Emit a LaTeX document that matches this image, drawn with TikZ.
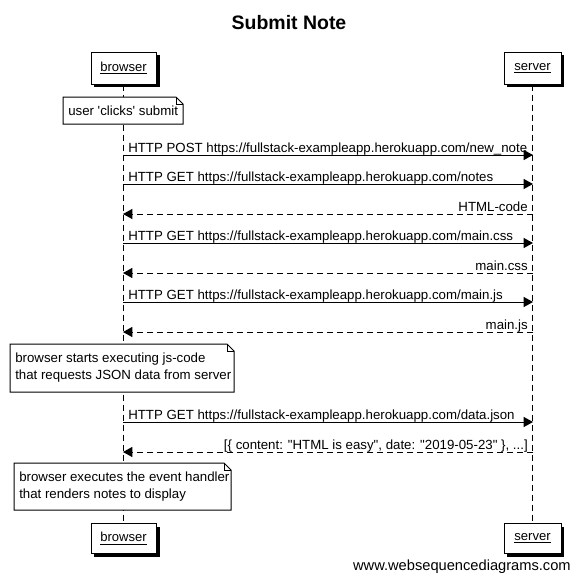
\documentclass[tikz,border=0pt]{standalone}
\usepackage{fontspec}
\setmainfont{Liberation Sans}[Ligatures=TeXOff]
\usetikzlibrary{arrows.meta,calc}
\tikzset{
  actor/.style={draw=black,fill=white,line width=0.75pt,minimum width=49pt,minimum height=24pt,inner sep=0pt,font=\fontsize{9.8}{11}\selectfont},
  life/.style={draw=black,line width=0.75pt,dash pattern=on 4.5pt off 3pt},
  msg/.style={draw=black,line width=0.75pt,-{Triangle[length=7pt,width=7.5pt]}},
  ret/.style={draw=black,line width=0.75pt,dash pattern=on 4.5pt off 3pt,-{Triangle[length=7pt,width=7.5pt]}},
  lbl/.style={font=\fontsize{9.95}{11}\selectfont,inner sep=0pt},
  notetxt/.style={font=\fontsize{9.95}{12.6}\selectfont,align=left,inner sep=0pt},
  notebox/.style={draw=black,fill=white,line width=0.75pt},
  ear/.style={draw=black,line width=0.5pt},
}
\begin{document}
\begin{tikzpicture}[x=0.75pt,y=-0.75pt]
\useasboundingbox (0,0) rectangle (576,578);
% title
\node[font=\bfseries\fontsize{14.6}{16}\selectfont] (title) at (289,22.5) {Submit Note};
% actor boxes
\fill (94,55) rectangle (160,87);
\node[actor,minimum width=48.75pt,minimum height=24pt] (bt) at (123.5,68) {\underline{browser}};
\fill (507,55) rectangle (564,87);
\node[actor,minimum width=42.75pt,minimum height=24pt] (st) at (532.5,68) {\underline{server}};
\fill (94,527) rectangle (160,557);
\node[actor,minimum width=48.75pt,minimum height=23pt] (bb) at (123.5,538.5) {\underline{browser}};
\fill (507,527) rectangle (564,557);
\node[actor,minimum width=42.75pt,minimum height=23pt] (sb) at (532.5,538.5) {\underline{server}};
% lifelines
\path[life] (bt.south) -- (bb.north);
\path[life] (st.south) -- (sb.north);
% note 1
\draw[notebox] (63,97) -- (176,97) -- (183,104) -- (183,124) -- (63,124) -- cycle;
\draw[ear] (176,97) -- (176,104) -- (183,104);
\node[notetxt,anchor=west] (note1) at (68,111) {user 'clicks' submit};
% messages
\coordinate (b1) at (123,155); \coordinate (s1) at (533,155);
\path[msg] (b1) -- (s1);
\node[lbl,anchor=base west] (m1) at (128,152) {HTTP POST https://fullstack-exampleapp.herokuapp.com/new\_note};
\coordinate (b2) at (123,184); \coordinate (s2) at (533,184);
\path[msg] (b2) -- (s2);
\node[lbl,anchor=base west] (m2) at (128,181) {HTTP GET https://fullstack-exampleapp.herokuapp.com/notes};
\coordinate (b3) at (123,214); \coordinate (s3) at (533,214);
\path[ret] (s3) -- (b3);
\node[lbl,anchor=base east] (m3) at (528,211) {HTML-code};
\coordinate (b4) at (123,243); \coordinate (s4) at (533,243);
\path[msg] (b4) -- (s4);
\node[lbl,anchor=base west] (m4) at (128,240) {HTTP GET https://fullstack-exampleapp.herokuapp.com/main.css};
\coordinate (b5) at (123,273); \coordinate (s5) at (533,273);
\path[ret] (s5) -- (b5);
\node[lbl,anchor=base east] (m5) at (528,270) {main.css};
\coordinate (b6) at (123,302); \coordinate (s6) at (533,302);
\path[msg] (b6) -- (s6);
\node[lbl,anchor=base west] (m6) at (128,299) {HTTP GET https://fullstack-exampleapp.herokuapp.com/main.js};
\coordinate (b7) at (123,332); \coordinate (s7) at (533,332);
\path[ret] (s7) -- (b7);
\node[lbl,anchor=base east] (m7) at (528,329) {main.js};
% note 2
\draw[notebox] (10,344) -- (227,344) -- (234,351) -- (234,392) -- (10,392) -- cycle;
\draw[ear] (227,344) -- (227,351) -- (234,351);
\node[notetxt,anchor=north west] (note2) at (15,352.5) {browser starts executing js-code\\that requests JSON data from server};
% data.json
\coordinate (b8) at (123,422); \coordinate (s8) at (533,422);
\path[msg] (b8) -- (s8);
\node[lbl,anchor=base west] (m8) at (128,419) {HTTP GET https://fullstack-exampleapp.herokuapp.com/data.json};
\coordinate (b9) at (123,452); \coordinate (s9) at (533,452);
\path[ret] (s9) -- (b9);
\node[lbl,anchor=base east] (m9) at (528,449) {[\{ content: "HTML is easy", date: "2019-05-23" \}, ...]};
% note 3
\draw[notebox] (14,463) -- (224,463) -- (231,470) -- (231,510) -- (14,510) -- cycle;
\draw[ear] (224,463) -- (224,470) -- (231,470);
\node[notetxt,anchor=north west] (note3) at (19,471.5) {browser executes the event handler\\that renders notes to display};
% watermark
\node[font=\fontsize{11}{12}\selectfont,anchor=base east,inner sep=0pt] (wm) at (571,570) {www.websequencediagrams.com};
\end{tikzpicture}
\end{document}
